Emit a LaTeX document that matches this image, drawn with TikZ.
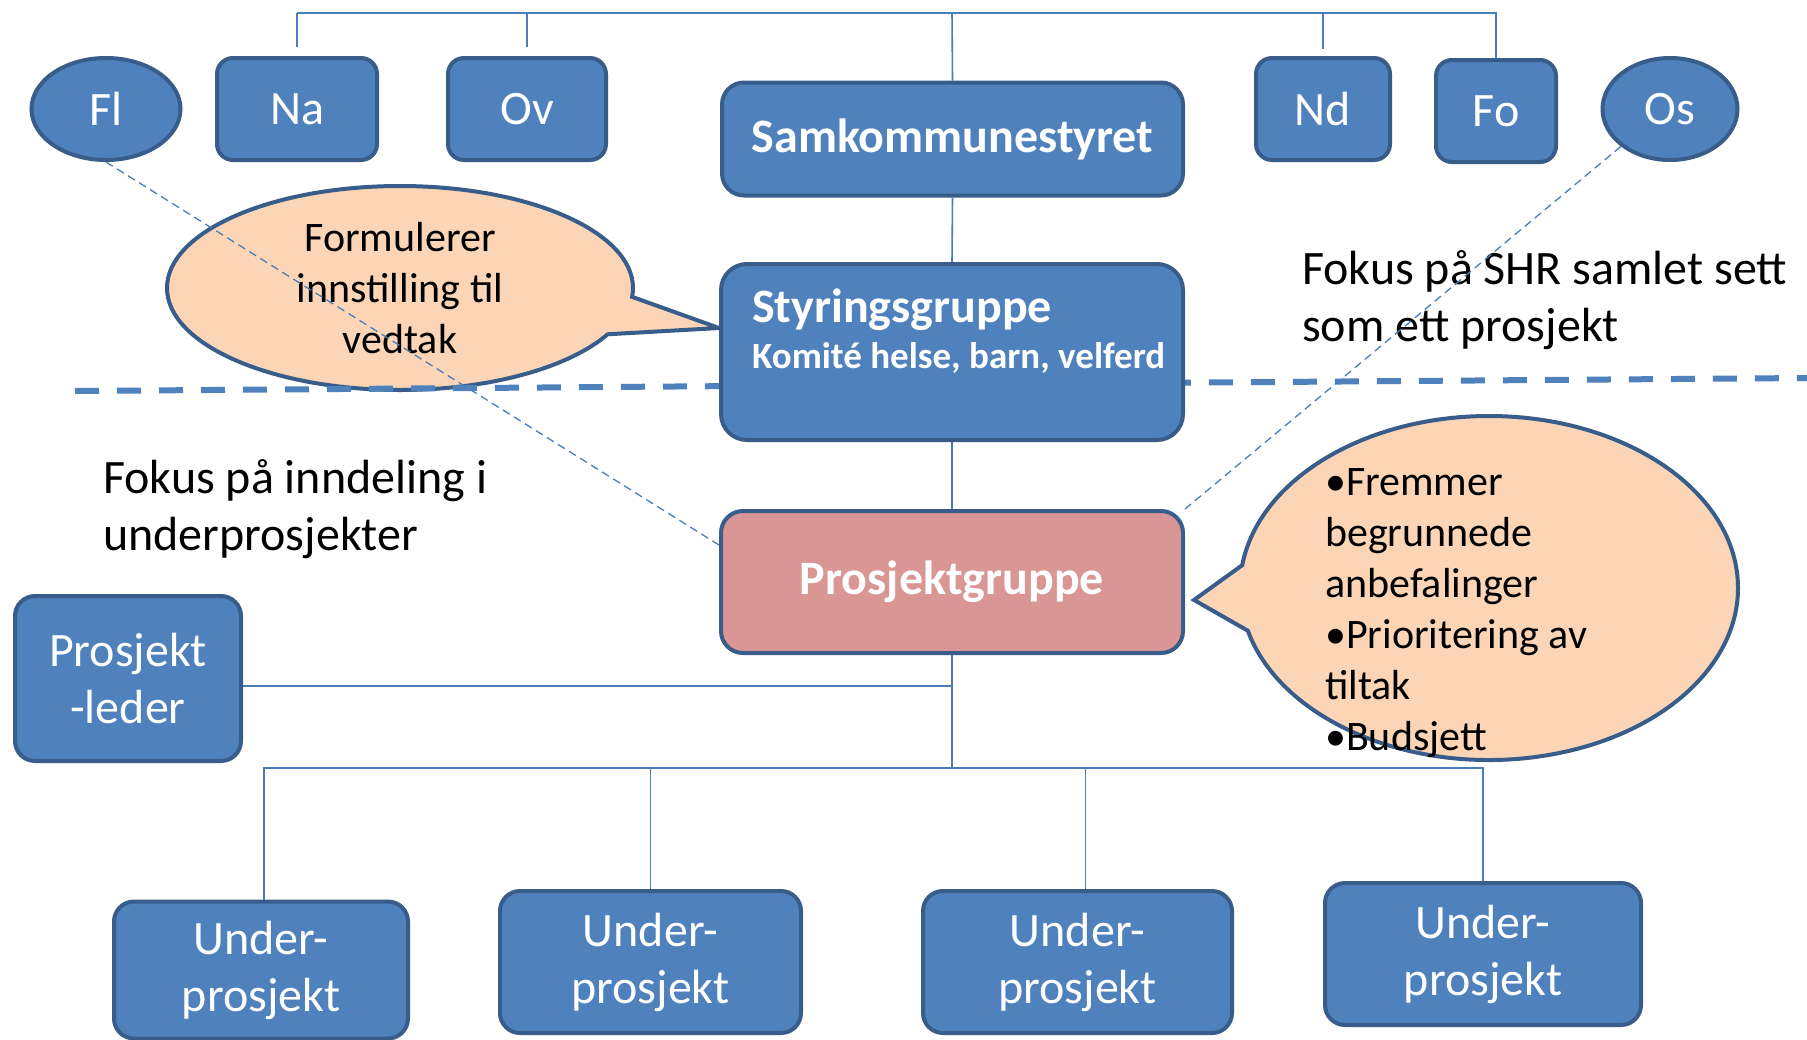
\documentclass[tikz,border=0pt]{standalone}
\usepackage{fontspec}
\setmainfont{Carlito}
\usetikzlibrary{shapes.geometric,shapes.callouts,calc,backgrounds}
\definecolor{boxc}{HTML}{4F81BD}
\definecolor{bordc}{HTML}{385D8A}
\definecolor{pinkc}{HTML}{D99694}
\definecolor{bubc}{HTML}{FBD5B5}
\definecolor{linec}{HTML}{4A7EBB}
\tikzset{
  box/.style={draw=bordc, fill=boxc, line width=4pt, rounded corners=16pt, text=white,
    inner sep=0pt, align=center, font=\fontsize{48}{57}\selectfont},
  bigbox/.style={box, rounded corners=22pt, font=\bfseries\fontsize{48}{57}\selectfont},
  subbox/.style={box, rounded corners=20pt, font=\fontsize{48}{57}\selectfont},
  oval/.style={ellipse, draw=bordc, fill=boxc, line width=4pt, text=white,
    inner sep=0pt, font=\fontsize{48}{57}\selectfont},
  conn/.style={draw=linec, line width=1.6pt},
  dotl/.style={draw=linec, line width=1.3pt, dash pattern=on 8pt off 5pt},
  sepline/.style={draw=boxc, line width=6pt, dash pattern=on 24pt off 18pt},
  bubble/.style={ellipse callout, draw=bordc, fill=bubc, line width=4pt, inner sep=0pt,
    callout pointer arc=22},
  bubtext/.style={text=black, inner sep=0pt, font=\fontsize{42}{51}\selectfont},
  fokus/.style={text=black, inner sep=0pt, align=left, anchor=west, font=\fontsize{48}{57}\selectfont}
}
\begin{document}
\begin{tikzpicture}[x=1pt,y=-1pt]
\useasboundingbox (0,0) rectangle (1807,1039);

% top row
\node[oval, minimum width=149, minimum height=102] (Fl) at (106,109) {Fl};
\node[box, minimum width=160, minimum height=102] (Na) at (297,109) {Na};
\node[box, minimum width=158, minimum height=102] (Ov) at (527,109) {Ov};
\node[bigbox, minimum width=461, minimum height=113] (Sam) at (952.5,139) {Samkommunestyret};
\node[box, minimum width=134, minimum height=102] (Nd) at (1323,109) {Nd};
\node[box, minimum width=120, minimum height=102] (Fo) at (1496,111) {Fo};
\node[oval, minimum width=135, minimum height=102] (Os) at (1670,109) {Os};

% middle
\node[bigbox, minimum width=462, minimum height=176, rounded corners=26pt] (Sty) at (952,352) {};
\node[anchor=base west, inner sep=0pt, text=white, font=\bfseries\fontsize{48}{57}\selectfont] (StyT) at (752,322) {Styringsgruppe};
\node[anchor=base west, inner sep=0pt, text=white, font=\bfseries\fontsize{37}{44}\selectfont] (StyK) at (752,368) {Komité helse, barn, velferd};
\node[bigbox, fill=pinkc, minimum width=462, minimum height=142] (PG) at (952,582) {Prosjektgruppe};
\node[subbox, minimum width=226, minimum height=165] (PL) at (128,678.5) {Prosjekt\\-leder};

% sub projects
\node[subbox, minimum width=294, minimum height=137] (U1) at (261,970) {Under-\\prosjekt};
\node[subbox, minimum width=301, minimum height=142] (U2) at (650.5,962) {Under-\\prosjekt};
\node[subbox, minimum width=309, minimum height=142] (U3) at (1077.5,962) {Under-\\prosjekt};
\node[subbox, minimum width=316, minimum height=142] (U4) at (1483,954) {Under-\\prosjekt};

\begin{pgfonlayer}{background}
\fill[white] (0,0) rectangle (1807,1039);
% speech bubbles
\node[bubble, minimum width=466, minimum height=204,
  callout absolute pointer={([yshift=24pt]Sty.west)}] (B1) at (400,288) {};
\node[bubtext, align=center] (B1t) at (B1.center) {Formulerer\\innstilling til\\vedtak};
\node[bubble, minimum width=498, minimum height=344,
  callout absolute pointer={([xshift=9pt,yshift=-18pt]PG.east)}] (B2) at (1489,588) {};
\node[bubtext, align=left, anchor=west] (B2t) at (1325,613)
  {•Fremmer\\begrunnede\\anbefalinger\\•Prioritering av\\tiltak\\•Budsjett};

% focus texts
\node[fokus] (F1) at (1302,300) {Fokus på SHR samlet sett\\som ett prosjekt};
\node[fokus] (F2) at (103,509) {Fokus på inndeling i\\underprosjekter};

% top connectors
\coordinate (T) at (952,13);
\draw[conn] (Na.north |- T) -- (Fo.north |- T) -- (Fo.north);
\draw[conn, shorten <=9pt] (Na.north) -- (Na.north |- T);
\draw[conn, shorten <=9pt] (Ov.north) -- (Ov.north |- T);
\draw[conn, shorten <=7pt] (Nd.north) -- (Nd.north |- T);
\draw[conn] (Sam.north) -- (T);

% vertical chain
\draw[conn] (Sam.south) -- (Sty.north);
\draw[conn] (Sty.south) -- (PG.north);
\coordinate (Bus) at (952,768);
\draw[conn] (PG.south) -- (Bus);
\draw[conn] ([yshift=-7.5pt]PL.east) -- ([yshift=-7.5pt]PL.east -| PG.south);
\draw[conn] ([xshift=3pt]U1.north) -- ([xshift=3pt]U1.north |- Bus) -- (U4.north |- Bus) -- (U4.north);
\draw[conn] (U2.north) -- (U2.north |- Bus);
\draw[conn] ([xshift=8pt]U3.north) -- ([xshift=8pt]U3.north |- Bus);

% dashed separator and dotted diagonals
\coordinate (DL) at (75,391);
\coordinate (DR) at (1807,378);
\draw[sepline] (DL) -- (DR);
\draw[dotl] (Fl.south) -- ([yshift=37pt]PG.west);
\draw[dotl] (Os.south west) -- (PG.north east);
\end{pgfonlayer}
\end{tikzpicture}
\end{document}
